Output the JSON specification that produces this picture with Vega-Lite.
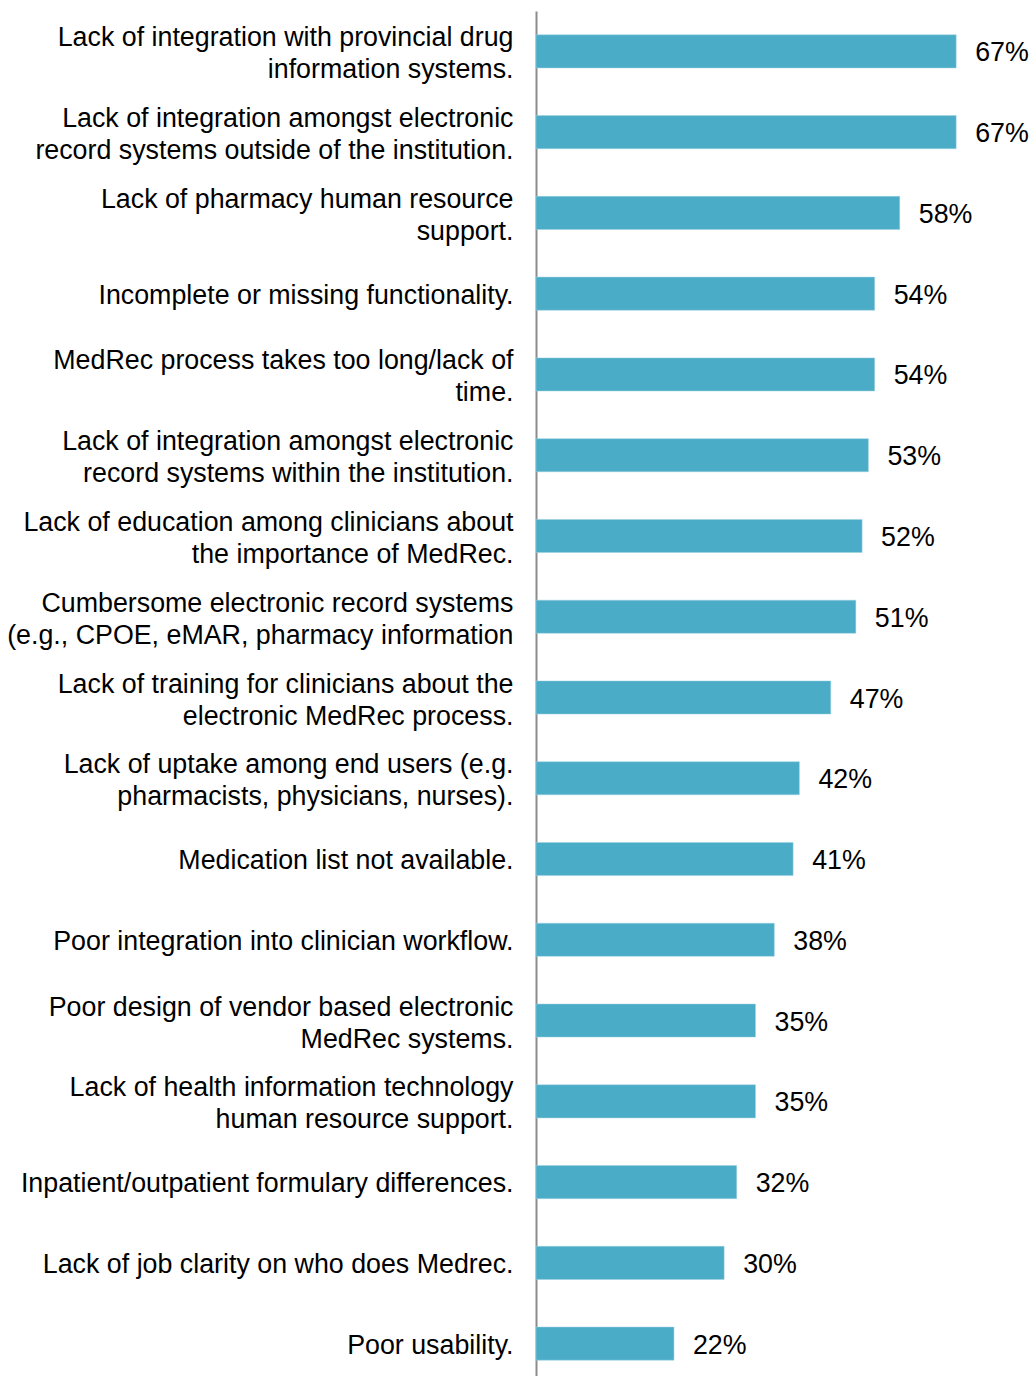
{
  "$schema": "https://vega.github.io/schema/vega-lite/v6.json",
  "autosize": "none",
  "padding": {"left": 536, "top": 11, "right": 59, "bottom": 0},
  "width": 439,
  "height": 1373,
  "background": "white",
  "config": {"view": {"stroke": null}, "font": "Liberation Sans"},
  "data": {
    "values": [
      {"barrier": "Lack of integration with provincial drug|information systems.", "share": 0.67},
      {"barrier": "Lack of integration amongst electronic|record systems outside of the institution.", "share": 0.67},
      {"barrier": "Lack of pharmacy human resource|support.", "share": 0.58},
      {"barrier": "Incomplete or missing functionality.", "share": 0.54},
      {"barrier": "MedRec process takes too long/lack of|time.", "share": 0.54},
      {"barrier": "Lack of integration amongst electronic|record systems within the institution.", "share": 0.53},
      {"barrier": "Lack of education among clinicians about|the importance of MedRec.", "share": 0.52},
      {"barrier": "Cumbersome electronic record systems|(e.g., CPOE, eMAR, pharmacy information", "share": 0.51},
      {"barrier": "Lack of training for clinicians about the|electronic MedRec process.", "share": 0.47},
      {"barrier": "Lack of uptake among end users (e.g.|pharmacists, physicians, nurses).", "share": 0.42},
      {"barrier": "Medication list not available.", "share": 0.41},
      {"barrier": "Poor integration into clinician workflow.", "share": 0.38},
      {"barrier": "Poor design of vendor based electronic|MedRec systems.", "share": 0.35},
      {"barrier": "Lack of health information technology|human resource support.", "share": 0.35},
      {"barrier": "Inpatient/outpatient formulary differences.", "share": 0.32},
      {"barrier": "Lack of job clarity on who does Medrec.", "share": 0.30},
      {"barrier": "Poor usability.", "share": 0.22}
    ]
  },
  "encoding": {
    "y": {
      "field": "barrier",
      "type": "nominal",
      "sort": null,
      "scale": {"paddingInner": 0.59, "paddingOuter": 0.295},
      "axis": {
        "title": null,
        "ticks": false,
        "domain": true,
        "domainColor": "#8c8c8c",
        "domainWidth": 2,
        "labelFont": "Liberation Sans",
        "labelFontSize": 26.8,
        "labelColor": "#000000",
        "labelPadding": 23,
        "labelLimit": 700,
        "labelLineHeight": 32,
        "labelOffset": {"condition": {"test": "indexof(datum.label, '|') >= 0", "value": -13}, "value": 2},
        "labelExpr": "split(datum.label, '|')"
      }
    },
    "x": {
      "field": "share",
      "type": "quantitative",
      "scale": {"domain": [0, 0.7]},
      "axis": null
    }
  },
  "layer": [
    {"mark": {"type": "bar", "color": "#4aacc6", "stroke": "#9fd3e2", "strokeWidth": 0.5}},
    {
      "mark": {"type": "text", "align": "left", "baseline": "middle", "dx": 19, "dy": 2, "fontSize": 26.8, "font": "Liberation Sans", "color": "#000000"},
      "encoding": {"text": {"field": "share", "type": "quantitative", "format": ".0%"}}
    }
  ]
}
